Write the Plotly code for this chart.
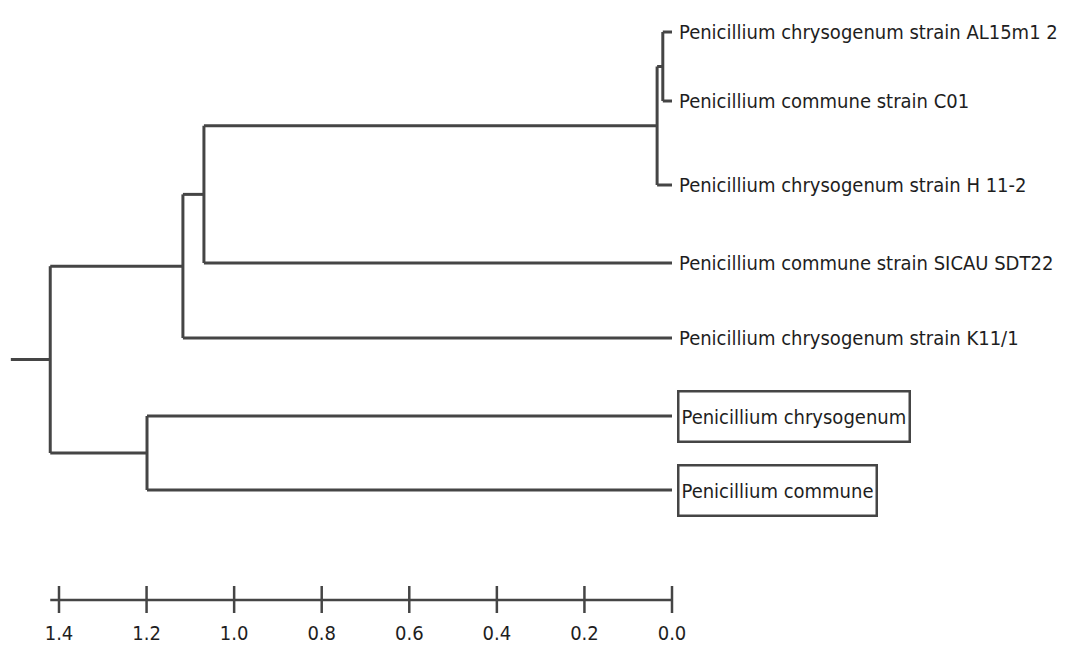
import plotly.graph_objects as go

# Leaves of the tree (top to bottom) and their row positions
leaf_labels = [
    "Penicillium chrysogenum strain AL15m1 2",
    "Penicillium commune strain C01",
    "Penicillium chrysogenum strain H 11-2",
    "Penicillium commune strain SICAU SDT22",
    "Penicillium chrysogenum strain K11/1",
    "Penicillium chrysogenum",
    "Penicillium commune",
]
leaf_rows = [32, 101, 185, 263, 338, 416, 490]
boxed_leaves = ["Penicillium chrysogenum", "Penicillium commune"]

# Merges: (child a, child b, height); leaves are 0..6, new nodes numbered from 7
merge_a = [0, 7, 8, 9, 5, 10]
merge_b = [1, 2, 3, 4, 6, 11]
merge_height = [0.021, 0.034, 1.069, 1.117, 1.199, 1.42]
root_stub = 1.51

# Distance scale
scale_ticks = [1.4, 1.2, 1.0, 0.8, 0.6, 0.4, 0.2, 0.0]
scale_row = 600

LINE = "#454545"
TEXT = "#1e1e1e"
FONT = "Liberation Sans Narrow, Arial Narrow, DejaVu Sans Condensed, sans-serif"

# Compute node positions and branch segments
node_x = [0.0] * len(leaf_labels)
node_y = list(leaf_rows)
xs, ys = [], []
for a, b, h in zip(merge_a, merge_b, merge_height):
    # vertical joining the two children
    xs += [h, h, None]
    ys += [node_y[a], node_y[b], None]
    # horizontal branches to each child
    for c in (a, b):
        xs += [h, node_x[c], None]
        ys += [node_y[c], node_y[c], None]
    node_x.append(h)
    node_y.append((node_y[a] + node_y[b]) / 2)

# stub to the left of the root
xs += [root_stub, node_x[-1], None]
ys += [node_y[-1], node_y[-1], None]

fig = go.Figure()
fig.add_trace(go.Scatter(x=xs, y=ys, mode="lines",
                         line=dict(color=LINE, width=3),
                         hoverinfo="skip", showlegend=False))

# scale bar with crossing tick marks
sx = [merge_height[-1], scale_ticks[-1], None]
sy = [scale_row, scale_row, None]
for t in scale_ticks:
    sx += [t, t, None]
    sy += [scale_row - 14, scale_row + 13, None]
fig.add_trace(go.Scatter(x=sx, y=sy, mode="lines",
                         line=dict(color=LINE, width=2.5),
                         hoverinfo="skip", showlegend=False))

# leaf labels
for lab, row in zip(leaf_labels, leaf_rows):
    boxed = lab in boxed_leaves
    fig.add_annotation(
        x=0, y=row, xref="x", yref="y", text=lab, showarrow=False,
        xanchor="left", yanchor="middle", xshift=5,
        font=dict(family=FONT, size=20, color=TEXT),
        bordercolor=LINE if boxed else "rgba(0,0,0,0)",
        borderwidth=2.5 if boxed else 0, borderpad=2,
        height=44 if boxed else None,
    )

W, H = 1066, 649
px_per_unit = 437.86
zero_px = 672
fig.update_layout(
    width=W, height=H,
    margin=dict(l=0, r=0, t=0, b=0),
    paper_bgcolor="white", plot_bgcolor="white",
    xaxis=dict(
        range=[zero_px / px_per_unit, (zero_px - W) / px_per_unit],
        showgrid=False, zeroline=False, showline=False,
        tickvals=scale_ticks, ticktext=[f"{t:.1f}" for t in scale_ticks],
        ticks="", anchor="free", position=(H - scale_row) / H,
        ticklabelstandoff=19,
        tickfont=dict(family=FONT, size=20, color=TEXT),
    ),
    yaxis=dict(range=[H, 0], visible=False),
)

fig.write_html("out.html")
